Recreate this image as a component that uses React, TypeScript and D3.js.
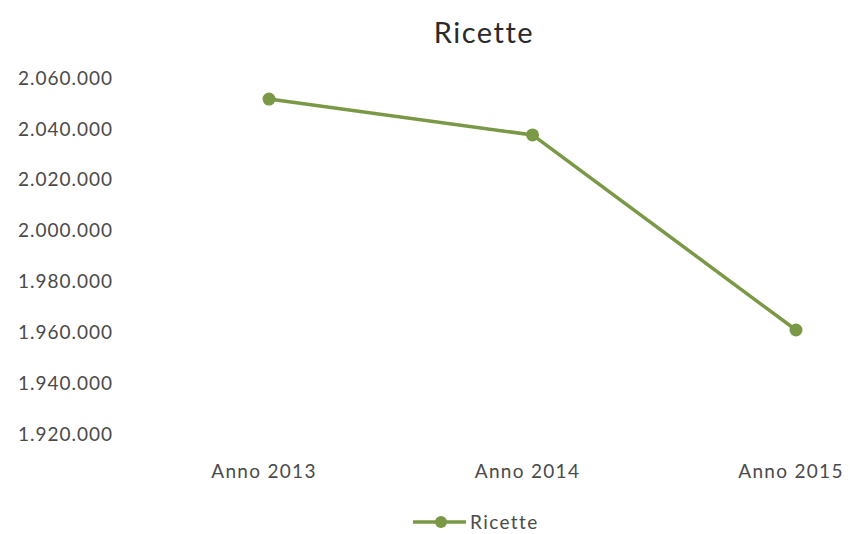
import React from "react";
import * as d3 from "d3";

const categories = ["Anno 2013", "Anno 2014", "Anno 2015"];
const values = [2051700, 2037600, 1960900];
const yTicks = [1920000, 1940000, 1960000, 1980000, 2000000, 2020000, 2040000, 2060000];
const seriesName = "Ricette";
const title = "Ricette";

const W = 850;
const H = 534;
const COLOR = "#7a9845";
const TEXT = "#4a4a4a";
const FONT = "Lato, 'Open Sans', sans-serif";

export default function App() {
  const x = d3.scalePoint<string>().domain(categories).range([269, 796]);
  const y = d3.scaleLinear().domain([1920000, 2060000]).range([434, 78]);
  const fmt = (v: number) => d3.format(",")(v).replace(/,/g, ".");
  const line = d3
    .line<number>()
    .x((_, i) => x(categories[i]) as number)
    .y((d) => y(d));

  return (
    <svg
      width={W}
      height={H}
      style={{ position: "absolute", left: 0, top: 0, background: "#fff" }}
      fontFamily={FONT}
    >
      <rect width={W} height={H} fill="#fff" />
      <text x={484} y={43} textAnchor="middle" fontSize={29} letterSpacing={1.5} fill="#2a2a2a">
        {title}
      </text>
      {yTicks.map((t) => (
        <text
          key={t}
          x={113}
          y={y(t)}
          dy="0.35em"
          textAnchor="end"
          fontSize={19}
          letterSpacing={1}
          fill={TEXT}
        >
          {fmt(t)}
        </text>
      ))}
      {categories.map((c) => (
        <text
          key={c}
          x={(x(c) as number) - 5}
          y={471}
          dy="0.35em"
          textAnchor="middle"
          fontSize={19}
          letterSpacing={1.3}
          fill={TEXT}
        >
          {c}
        </text>
      ))}
      <path d={line(values) || ""} fill="none" stroke={COLOR} strokeWidth={3.5} />
      {values.map((v, i) => (
        <circle key={i} cx={x(categories[i]) as number} cy={y(v)} r={6.5} fill={COLOR} />
      ))}
      <g>
        <line x1={413} x2={466} y1={522} y2={522} stroke={COLOR} strokeWidth={3.5} />
        <circle cx={441} cy={522} r={6} fill={COLOR} />
        <text x={470} y={522} dy="0.35em" fontSize={19} letterSpacing={1.4} fill={TEXT}>
          {seriesName}
        </text>
      </g>
    </svg>
  );
}
